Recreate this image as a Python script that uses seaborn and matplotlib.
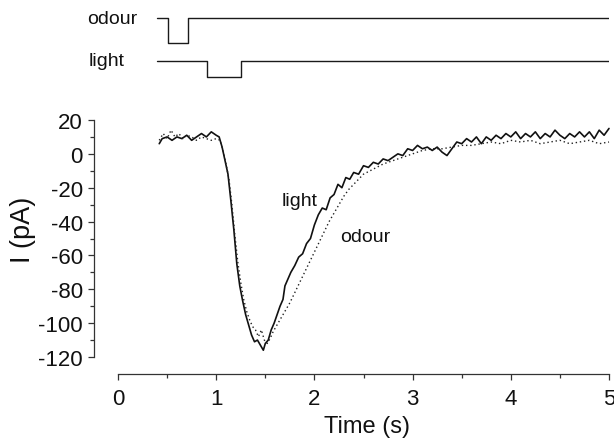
import numpy as np
import pandas as pd
import matplotlib
matplotlib.use("Agg")
import matplotlib.pyplot as plt
import seaborn as sns

# ---- data ----
light_t = [0.42, 0.45, 0.50, 0.55, 0.60, 0.65, 0.70, 0.75, 0.80, 0.85, 0.90, 0.95, 1.00, 1.03,
           1.06, 1.09, 1.12, 1.15, 1.18, 1.21, 1.24, 1.27, 1.30, 1.33, 1.36, 1.39, 1.42, 1.45,
           1.48, 1.50, 1.53, 1.56, 1.59, 1.62, 1.65, 1.68, 1.70, 1.73, 1.76, 1.80, 1.84, 1.88,
           1.92, 1.96, 2.00, 2.04, 2.08, 2.12, 2.16, 2.20, 2.24, 2.28, 2.32, 2.36, 2.40, 2.45,
           2.50, 2.55, 2.60, 2.65, 2.70, 2.75, 2.80, 2.85, 2.90, 2.95, 3.00, 3.05, 3.10, 3.15,
           3.20, 3.25, 3.30, 3.35, 3.40, 3.45, 3.50, 3.55, 3.60, 3.65, 3.70, 3.75, 3.80, 3.85,
           3.90, 3.95, 4.00, 4.05, 4.10, 4.15, 4.20, 4.25, 4.30, 4.35, 4.40, 4.45, 4.50, 4.55,
           4.60, 4.65, 4.70, 4.75, 4.80, 4.85, 4.90, 4.95, 5.00]
light_i = [6, 9, 10, 8, 10, 9, 11, 8, 10, 12, 10, 13, 11, 10,
           4, -4, -12, -28, -45, -65, -78, -87, -95, -101, -107, -111, -110, -113,
           -116, -112, -110, -104, -100, -95, -90, -86, -78, -74, -70, -66, -61, -59,
           -53, -50, -42, -36, -32, -33, -26, -24, -18, -20, -14, -15, -11, -12,
           -7, -8, -5, -6, -3, -4, -2, 0, -1, 3, 2, 5, 3, 4,
           2, 4, 1, -1, 3, 7, 6, 9, 7, 10, 6, 10, 8, 11,
           9, 12, 10, 13, 9, 12, 10, 13, 9, 12, 10, 14, 11, 9,
           12, 10, 13, 10, 13, 9, 14, 11, 15]

odour_t = [0.42, 0.46, 0.50, 0.54, 0.58, 0.62, 0.66, 0.70, 0.75, 0.80, 0.85, 0.90, 0.95, 1.00,
           1.04, 1.07, 1.10, 1.13, 1.16, 1.19, 1.22, 1.25, 1.28, 1.31, 1.34, 1.37, 1.40, 1.43,
           1.46, 1.49, 1.52, 1.55, 1.58, 1.62, 1.66, 1.70, 1.75, 1.80, 1.85, 1.90, 1.95, 2.00,
           2.05, 2.10, 2.15, 2.20, 2.25, 2.30, 2.35, 2.40, 2.45, 2.50, 2.60, 2.70, 2.80, 2.90,
           3.00, 3.10, 3.20, 3.30, 3.40, 3.50, 3.60, 3.70, 3.80, 3.90, 4.00, 4.10, 4.20, 4.30,
           4.40, 4.50, 4.60, 4.70, 4.80, 4.90, 5.00]
odour_i = [8, 12, 9, 14, 10, 12, 9, 11, 10, 8, 10, 9, 8, 9,
           8, 2, -6, -15, -30, -48, -64, -76, -86, -93, -98, -102, -104, -108,
           -104, -110, -112, -109, -105, -101, -97, -93, -88, -82, -76, -70, -64, -58,
           -52, -46, -40, -35, -30, -25, -21, -18, -15, -12, -9, -6, -4, -2,
           0, 2, 3, 3, 4, 5, 5, 6, 7, 6, 8, 7, 8, 6,
           7, 8, 6, 7, 8, 6, 7]

# stimulus protocol: times of state changes, state 1 = stimulus on
odour_stim_t = [0.40, 0.506, 0.71, 5.0]
odour_stim_on = [0, 1, 0, 0]
light_stim_t = [0.40, 0.91, 1.253, 5.0]
light_stim_on = [0, 1, 0, 0]

y_ticks = [20, 0, -20, -40, -60, -80, -100, -120]
x_ticks = [0, 1, 2, 3, 4, 5]

# ---- style ----
sns.set_theme(style="ticks")
plt.rcParams["font.family"] = ["Liberation Sans", "DejaVu Sans"]

W, H = 614, 439
fig = plt.figure(figsize=(W / 100, H / 100), dpi=100)

# main axes: left spine at px 94, right at px 609, top y=20 at px 121, bottom y=-120 at px 358
ax = fig.add_axes([94 / W, 1 - 358 / H, (609 - 94) / W, (358 - 121) / H])
x_left = -24 / 98.2
ax.set_xlim(x_left, 5.0)
ax.set_ylim(-120, 20)

df = pd.concat([
    pd.DataFrame({"t": light_t, "I": light_i, "stim": "light"}),
    pd.DataFrame({"t": odour_t, "I": odour_i, "stim": "odour"}),
])
sns.lineplot(data=df[df.stim == "light"], x="t", y="I", ax=ax, color="#111111",
             linewidth=1.2, estimator=None, legend=False, clip_on=False)
sns.lineplot(data=df[df.stim == "odour"], x="t", y="I", ax=ax, color="#222222",
             linewidth=1.0, linestyle=(0, (1, 2)), estimator=None, legend=False,
             clip_on=False)

ax.text(1.67, -30.2, "light", fontsize=14, ha="left", va="baseline", color="#111111")
ax.text(2.26, -51.4, "odour", fontsize=14, ha="left", va="baseline", color="#111111")

for s in ["top", "right"]:
    ax.spines[s].set_visible(False)
ax.spines["left"].set_bounds(-120, 20)
ax.spines["bottom"].set_bounds(0, 5)
ax.spines["bottom"].set_position(("outward", 12.2))
for s in ["left", "bottom"]:
    ax.spines[s].set_linewidth(0.9)
    ax.spines[s].set_color("#333333")

ax.set_yticks(y_ticks)
ax.set_yticklabels([str(v) for v in y_ticks])
ax.set_yticks([10, -10, -30, -50, -70, -90, -110], minor=True)
ax.set_xticks(x_ticks)
ax.set_xticklabels([str(v) for v in x_ticks])
ax.set_xticks([0.5, 1.5, 2.5, 3.5, 4.5], minor=True)
ax.tick_params(axis="both", which="major", length=4.5, width=0.9, color="#333333",
               labelsize=16, labelcolor="#111111", direction="out")
ax.tick_params(axis="both", which="minor", length=2.8, width=0.9, color="#333333",
               direction="out")
ax.tick_params(axis="y", which="major", pad=3.5)
ax.tick_params(axis="x", which="major", pad=5.5)

ax.set_xlabel("Time (s)", fontsize=17, color="#111111")
ax.xaxis.set_label_coords((366.7 - 94) / 515, (358 - 416) / 237)
ax.set_ylabel("")
fig.text(23 / W, 1 - 230 / H, "I (pA)", rotation=90, ha="center", va="center",
         fontsize=19.5, color="#111111")

# stimulus axes (same time scale), spanning px rows 10..90
ax_s = fig.add_axes([94 / W, 1 - 90 / H, (609 - 94) / W, 80 / H])
ax_s.set_xlim(x_left, 5.0)
ax_s.set_ylim(0, 1)
ax_s.axis("off")
odour_base, odour_amp = 0.8875, 0.316
light_base, light_amp = 0.354, 0.2075
ax_s.step(odour_stim_t, [odour_base - odour_amp * s for s in odour_stim_on],
          where="post", color="#1a1a1a", linewidth=1.0)
ax_s.step(light_stim_t, [light_base - light_amp * s for s in light_stim_on],
          where="post", color="#1a1a1a", linewidth=1.0)
ax_s.text(0.20, odour_base, "odour", fontsize=14, ha="right", va="center", color="#111111")
ax_s.text(0.07, light_base, "light", fontsize=14, ha="right", va="center", color="#111111")

fig.savefig("out.png", dpi=100)
